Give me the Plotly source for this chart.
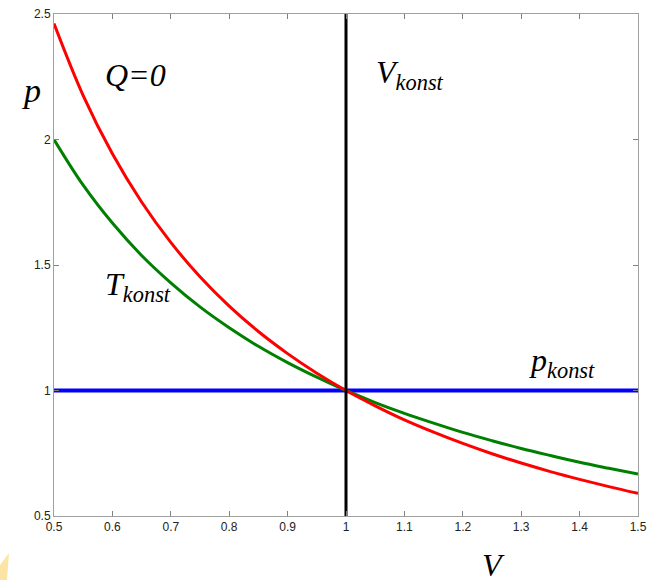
import plotly.graph_objects as go

V = [0.5, 0.55, 0.6, 0.65, 0.7, 0.75, 0.8, 0.85, 0.9, 0.95, 1.0,
     1.05, 1.1, 1.15, 1.2, 1.25, 1.3, 1.35, 1.4, 1.45, 1.5]
p_isotherm = [2.0, 1.818, 1.667, 1.538, 1.429, 1.333, 1.25, 1.176, 1.111, 1.053, 1.0,
              0.952, 0.909, 0.870, 0.833, 0.8, 0.769, 0.741, 0.714, 0.690, 0.667]
p_adiabat = [2.462, 2.175, 1.943, 1.751, 1.590, 1.453, 1.336, 1.235, 1.147, 1.069, 1.0,
             0.939, 0.883, 0.834, 0.789, 0.748, 0.711, 0.677, 0.646, 0.617, 0.590]
isobar_V = [0.5, 1.5]
isobar_p = [1.0, 1.0]
isochor_V = [1.0, 1.0]
isochor_p = [0.5, 2.5]
x_ticks = [0.5, 0.6, 0.7, 0.8, 0.9, 1.0, 1.1, 1.2, 1.3, 1.4, 1.5]
x_ticklabels = ["0.5", "0.6", "0.7", "0.8", "0.9", "1", "1.1", "1.2", "1.3", "1.4", "1.5"]
y_ticks = [0.5, 1.0, 1.5, 2.0, 2.5]
y_ticklabels = ["0.5", "1", "1.5", "2", "2.5"]

fig = go.Figure()
fig.add_trace(go.Scatter(x=isobar_V, y=isobar_p, mode="lines",
                         line=dict(color="#0000ff", width=4), hoverinfo="skip"))
fig.add_trace(go.Scatter(x=V, y=p_isotherm, mode="lines", line_shape="spline",
                         line=dict(color="#008000", width=3)))
fig.add_trace(go.Scatter(x=V, y=p_adiabat, mode="lines", line_shape="spline",
                         line=dict(color="#ff0000", width=3)))
fig.add_trace(go.Scatter(x=isochor_V, y=isochor_p, mode="lines",
                         line=dict(color="#000000", width=3), hoverinfo="skip"))

serif = "Liberation Serif, Times New Roman, serif"
ann = [
    dict(text="<i>p</i>", x=-0.038, y=0.848, xref="paper", yref="paper", size=34),
    dict(text="<i>Q=0</i>", x=0.584, y=2.257, xref="x", yref="y", size=32, xanchor="left"),
    dict(text="<i>V<sub>konst</sub></i>", x=1.048, y=2.26, xref="x", yref="y", size=32, xanchor="left"),
    dict(text="<i>T<sub>konst</sub></i>", x=0.584, y=1.415, xref="x", yref="y", size=32, xanchor="left"),
    dict(text="<i>p<sub>konst</sub></i>", x=1.31, y=1.11, xref="x", yref="y", size=32, xanchor="left"),
    dict(text="<i>V</i>", x=0.752, y=-0.097, xref="paper", yref="paper", size=32),
]
for a in ann:
    fig.add_annotation(text=a["text"], x=a["x"], y=a["y"], xref=a["xref"], yref=a["yref"],
                       showarrow=False, xanchor=a.get("xanchor", "center"), yanchor="middle",
                       font=dict(family=serif, size=a["size"], color="#000000"))

# faint decorative wedge in lower-left corner
fig.add_shape(type="path", xref="paper", yref="paper",
              path="M -0.0925 -0.1275 L -0.0925 -0.0976 L -0.0771 -0.0737 L -0.0805 -0.1275 Z",
              fillcolor="rgba(250,205,90,0.55)", line=dict(width=0), layer="below")

axis_common = dict(showline=True, linecolor="#a0a0a0", linewidth=1, mirror="ticks",
                   ticks="inside", ticklen=5, tickcolor="#808080", showgrid=False,
                   zeroline=False, automargin=False,
                   tickfont=dict(family="Liberation Sans, Arial", size=12, color="#222222"))
fig.update_xaxes(range=[0.5, 1.5], tickvals=x_ticks, ticktext=x_ticklabels, **axis_common)
fig.update_yaxes(range=[0.5, 2.5], tickvals=y_ticks, ticktext=y_ticklabels, **axis_common)

fig.update_layout(width=650, height=580, showlegend=False,
                  paper_bgcolor="white", plot_bgcolor="white",
                  margin=dict(l=54, r=12, t=14, b=64))
fig.write_html("out.html", config={"displayModeBar": False},
               post_script="document.body.style.margin='0';document.body.style.overflow='hidden';")
